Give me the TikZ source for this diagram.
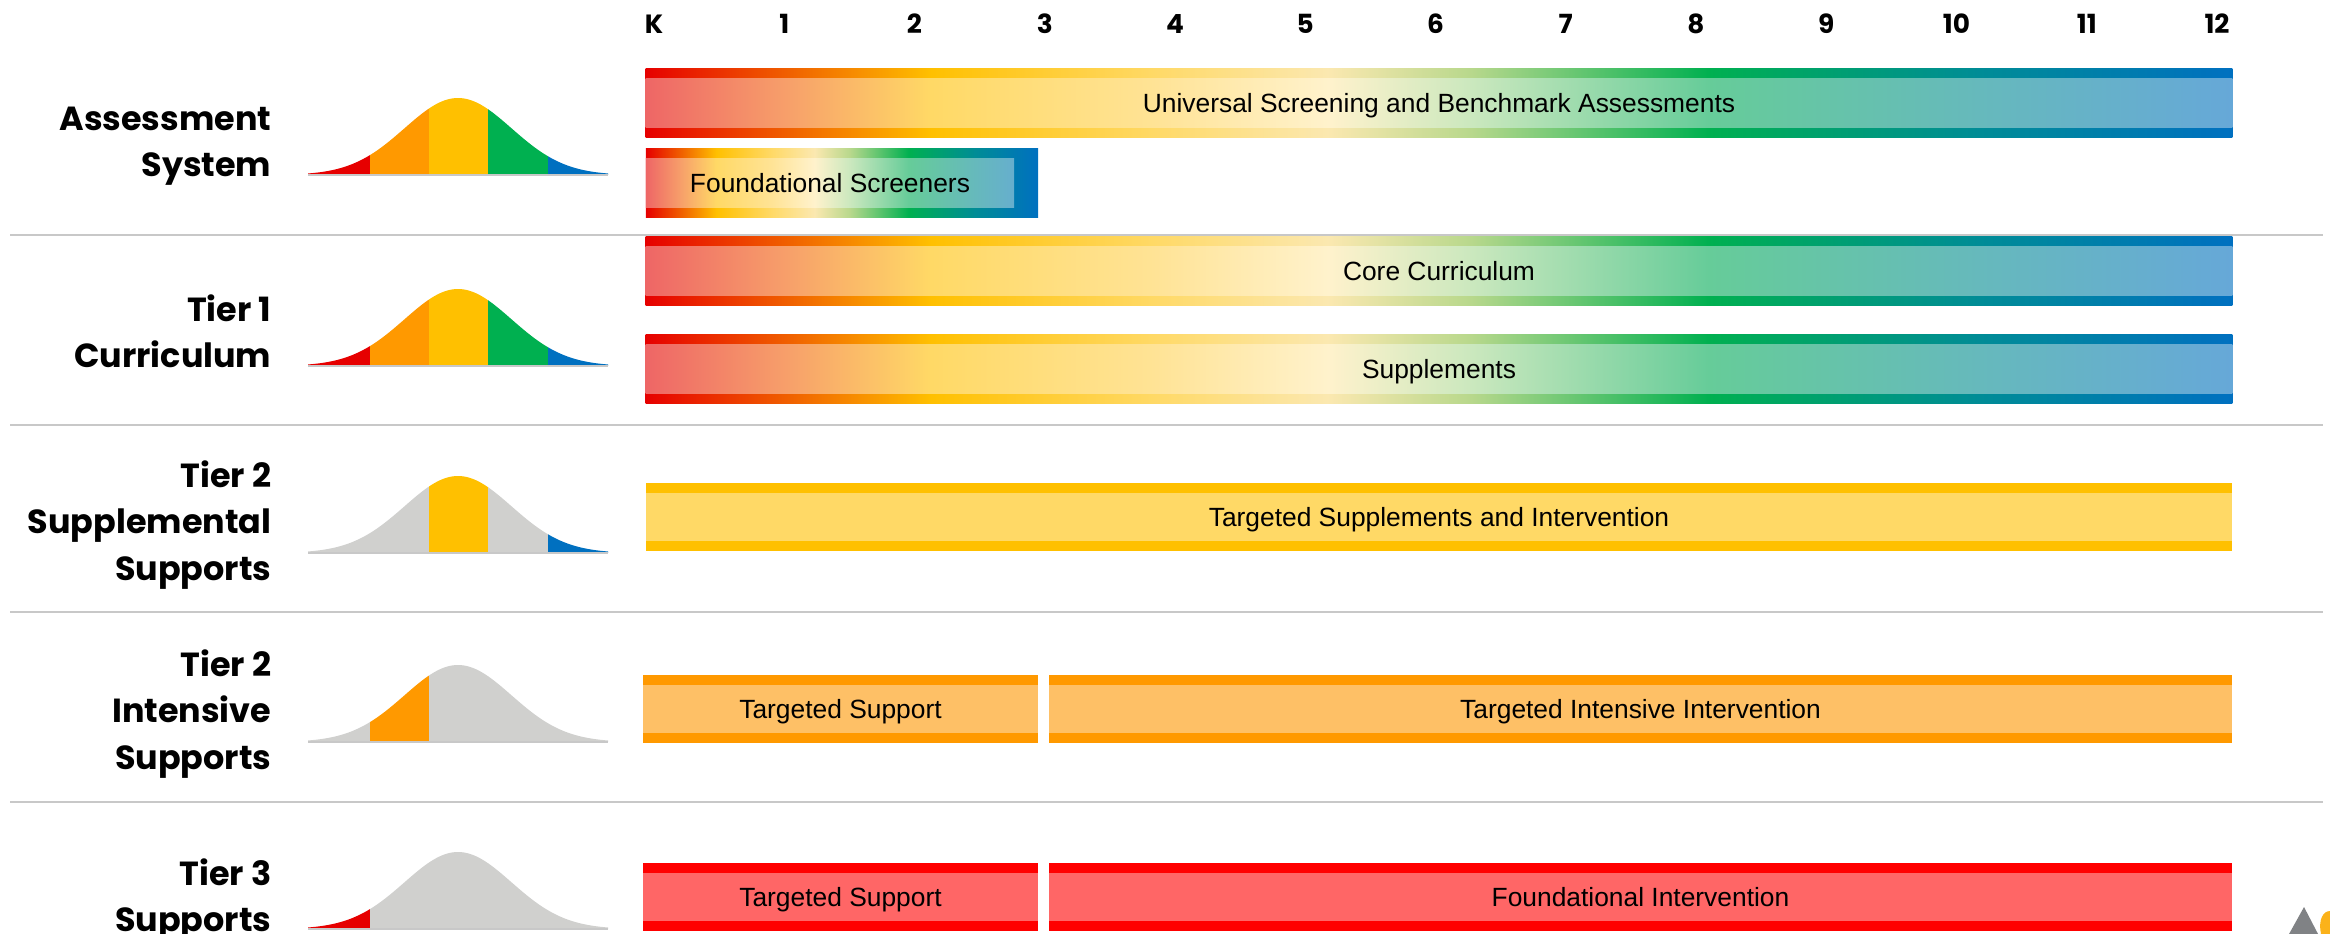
\documentclass[tikz,border=0pt]{standalone}
\usepackage{fontspec}
\setmainfont{Poppins}
\newfontfamily\barfont{Liberation Sans}
\usepackage{tikz}

\definecolor{cred}{HTML}{E60000}
\definecolor{corange}{HTML}{FF9900}
\definecolor{cyellow}{HTML}{FFC000}
\definecolor{cgreen}{HTML}{00B050}
\definecolor{cblue}{HTML}{0070C0}
\definecolor{cgray}{HTML}{D0D0CE}
\definecolor{rulegray}{HTML}{C8C8C8}
\definecolor{cyellowlight}{HTML}{FFD966}
\definecolor{corangelight}{HTML}{FEC066}
\definecolor{tred}{HTML}{FF0000}
\definecolor{tredlight}{HTML}{FF6666}
\definecolor{logogray}{HTML}{808285}
\definecolor{logoyellow}{HTML}{FBB21A}

\definecolor{edA}{HTML}{E60000}
\definecolor{edB}{HTML}{F06000}
\definecolor{edC}{HTML}{FFC000}
\definecolor{edD}{HTML}{FFD966}
\definecolor{edE}{HTML}{FBE8B0}
\definecolor{edF}{HTML}{B8D88C}
\definecolor{edG}{HTML}{00B050}
\definecolor{edH}{HTML}{008C96}
\definecolor{edI}{HTML}{0070C0}
\definecolor{flA}{HTML}{EE6666}
\definecolor{flB}{HTML}{F7A06A}
\definecolor{flC}{HTML}{FFD966}
\definecolor{flD}{HTML}{FFE395}
\definecolor{flE}{HTML}{FFF2CC}
\definecolor{flF}{HTML}{CBE8BE}
\definecolor{flG}{HTML}{66CC99}
\definecolor{flH}{HTML}{66B9BC}
\definecolor{flI}{HTML}{66A8D8}

\pgfdeclarehorizontalshading{spectrumedge}{100bp}{color(0bp)=(edA); color(25bp)=(edA); color(29.5bp)=(edB); color(34bp)=(edC); color(41bp)=(edD); color(46.5bp)=(edE); color(51bp)=(edF); color(58.5bp)=(edG); color(67bp)=(edH); color(75bp)=(edI); color(100bp)=(edI)}
\pgfdeclarehorizontalshading{spectrumfill}{100bp}{color(0bp)=(flA); color(25bp)=(flA); color(29.5bp)=(flB); color(34bp)=(flC); color(41bp)=(flD); color(46.5bp)=(flE); color(51bp)=(flF); color(58.5bp)=(flG); color(67bp)=(flH); color(75bp)=(flI); color(100bp)=(flI)}

\begin{document}
\begin{tikzpicture}[x=0.01cm, y=-0.01cm,
    grade/.style={inner sep=0pt, font=\bfseries\fontsize{7.5}{9}\selectfont},
    rowlabel/.style={anchor=east, align=right, inner sep=0pt, font=\bfseries\fontsize{9.5}{13.1}\selectfont},
    barlabel/.style={rectangle, inner sep=0pt, minimum height=0.68cm, text height=5.4pt, text depth=0pt, font=\barfont\fontsize{7.5}{9}\selectfont},
    gradbar/.style={barlabel, shade, shading=spectrumedge,
        path picture={\shade[shading=spectrumfill] ([yshift=-0.1cm]path picture bounding box.north west) rectangle ([yshift=0.1cm]path picture bounding box.south east);}},
    fscrbar/.style={barlabel, shade, shading=spectrumedge,
        path picture={\shade[shading=spectrumfill] ([yshift=-0.1cm]path picture bounding box.north west) rectangle ([xshift=-0.24cm,yshift=0.1cm]path picture bounding box.south east);}},
    solidbar/.style 2 args={barlabel, fill=#1,
        path picture={\fill[#2] ([yshift=-0.1cm]path picture bounding box.north west) rectangle ([yshift=0.1cm]path picture bounding box.south east);}}]
    \useasboundingbox (0,0) rectangle (2330,934);
    \clip (0,0) rectangle (2330,934);

    \foreach \g [count=\i from 0] in {K,1,2,3,4,5,6,7,8,9,10,11,12}
        \node[grade] (grade\i) at ({654+130.25*\i},24) {\g};

    \foreach \y in {235,425,612,802}
        \draw[rulegray, line width=0.025cm] (10,\y) -- (2323,\y);

    \node[rowlabel] (assess) at (272,146) {Assessment\\System};
    \node[rowlabel] (tier1) at (272,331) {Tier 1\\Curriculum};
    \node[rowlabel] (tier2s) at (272,525) {Tier 2\\Supplemental\\Supports};
    \node[rowlabel] (tier2i) at (272,714) {Tier 2\\Intensive\\Supports};
    \node[rowlabel] (tier3) at (272,900) {Tier 3\\Supports};

    \foreach \base/\ca/\cb/\cc/\cd/\ce in {175/cred/corange/cyellow/cgreen/cblue, 366/cred/corange/cyellow/cgreen/cblue,
            553/cgray/cgray/cyellow/cgray/cblue, 742/cgray/corange/cgray/cgray/cgray, 929/cred/cgray/cgray/cgray/cgray}
    {
        \foreach \from/\to/\col in {-150/-88/\ca, -88/-29/\cb, -29/30/\cc, 30/90/\cd, 90/150/\ce}
            \fill[\col] plot[variable=\t, domain=\from:\to, samples=16] ({458+\t},{\base-77*exp(-0.5*(\t/53.5)*(\t/53.5))}) -- ({458+\to},\base) -- ({458+\from},\base) -- cycle;
        \draw[rulegray, line width=0.4pt] (308,\base) -- (608,\base);
    }

    \node[gradbar, minimum width=15.86cm] (univ) at (1439,103) {Universal Screening and Benchmark Assessments};
    \node[fscrbar, minimum width=3.92cm] (fscr) at (842,183) {Foundational Screeners\hspace*{0.24cm}};
    \node[gradbar, minimum width=15.86cm] (core) at (1439,271) {Core Curriculum};
    \node[gradbar, minimum width=15.86cm] (supp) at (1439,369) {Supplements};
    \node[solidbar={cyellow}{cyellowlight}, minimum width=15.86cm] (tsupint) at (1439,517) {Targeted Supplements and Intervention};
    \node[solidbar={corange}{corangelight}, minimum width=3.95cm] (ttwosup) at (840.5,709) {Targeted Support};
    \node[solidbar={corange}{corangelight}, minimum width=11.83cm] (ttwoint) at (1640.5,709) {Targeted Intensive Intervention};
    \node[solidbar={tred}{tredlight}, minimum width=3.95cm] (tthreesup) at (840.5,897) {Targeted Support};
    \node[solidbar={tred}{tredlight}, minimum width=11.83cm] (tthreeint) at (1640.5,897) {Foundational Intervention};

    \fill[logogray] (2289,934) -- (2304,907) -- (2318,934) -- cycle;
    \fill[logoyellow] (2330,911) .. controls (2323,911) and (2318,920) .. (2321,934) -- (2330,934) -- cycle;
\end{tikzpicture}
\end{document}
